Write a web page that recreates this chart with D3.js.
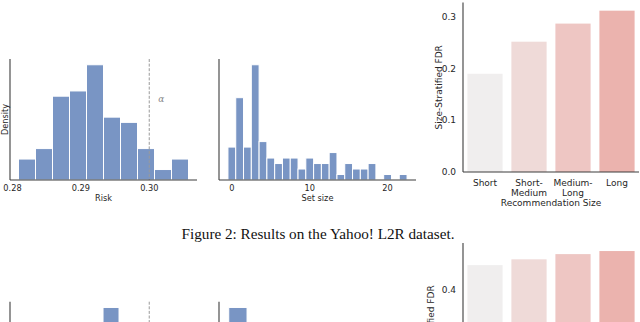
<!DOCTYPE html>
<html>
<head>
<meta charset="utf-8">
<script src="https://cdn.jsdelivr.net/npm/d3@7"></script>
<style>
  body { margin: 0; background: #fff; }
  svg { display: block; }
</style>
</head>
<body>
<script>
// ---- data ----

// Risk histogram (Yahoo! L2R), 10 bins
var riskCounts = [4, 6, 16, 17, 22, 12, 11, 6, 2, 4];
var riskFirstEdge = 0.28088;
var riskBinWidth = 0.002486;
var riskTicks = [0.28, 0.29, 0.30];
var riskAlpha = 0.30;

// Set size histogram, one bin per integer size
var setSizes = [0, 1, 2, 3, 4, 5, 6, 7, 8, 9, 10, 11, 12, 13, 14, 15, 16, 17, 18, 19, 20, 21, 22];
var setCounts = [6, 15, 6, 21, 7, 4, 3, 4, 4, 2, 4, 3, 3, 5, 1, 3, 2, 2, 3, 0, 1, 0, 1];
var setTicks = [0, 10, 20];

// Size-stratified FDR bar chart
var categories = ["Short", "Short-Medium", "Medium-Long", "Long"];
var categoryLines = [["Short"], ["Short-", "Medium"], ["Medium-", "Long"], ["Long"]];
var fdrYahoo = [0.190, 0.252, 0.287, 0.312];
var fdrTicks = [0.0, 0.1, 0.2, 0.3];
var barColors = ["#f0eeee", "#efdad8", "#eec6c3", "#ebb3ae"];

// next figure, only its top edge is in the picture
var fdrNext = [0.480, 0.499, 0.516, 0.526];
var fdrNextTicks = [0.4];
var nextRiskPeak = [0.29324, 0.29558];
var nextSetPeak = [-0.4, 1.95];
var nextAlpha = 0.30;

var histColor = "rgb(121,149,196)";
var spineColor = "#3d3d3d";
var textColor = "#262626";
var sans = "DejaVu Sans, sans-serif";

var svg = d3.select("body").append("svg")
  .attr("width", 640)
  .attr("height", 322);

// build the bins as {x0, x1, n}
var riskBins = riskCounts.map(function (c, i) {
  return { x0: riskFirstEdge + i * riskBinWidth, x1: riskFirstEdge + (i + 1) * riskBinWidth, n: c };
});
var setBins = setSizes.map(function (s, i) {
  return { x0: s - 0.5, x1: s + 0.5, n: setCounts[i] };
});

// matplotlib style 5% margin around the data
function padded(lo, hi) {
  var m = (hi - lo) * 0.05;
  return [lo - m, hi + m];
}

function histPanel(opt) {
  var g = svg.append("g");
  var x = d3.scaleLinear().domain(opt.xDomain).range([opt.left, opt.right]);
  var maxN = d3.max(opt.bins, function (d) { return d.n; });
  var y = d3.scaleLinear().domain([0, maxN * 1.05]).range([opt.bottom, opt.top]);

  g.selectAll("rect")
    .data(opt.bins.filter(function (d) { return d.n > 0; }))
    .enter()
    .append("rect")
    .attr("x", function (d) { return x(d.x0); })
    .attr("y", function (d) { return y(d.n); })
    .attr("width", function (d) { return x(d.x1) - x(d.x0); })
    .attr("height", function (d) { return y(0) - y(d.n); })
    .style("fill", histColor)
    .style("stroke", "#fff")
    .style("stroke-width", 1);

  if (opt.alpha !== undefined) {
    g.append("line")
      .attr("x1", x(opt.alpha)).attr("x2", x(opt.alpha))
      .attr("y1", opt.top).attr("y2", opt.bottom)
      .style("stroke", "#9a9a9a")
      .style("stroke-width", 1)
      .style("stroke-dasharray", "3,1.6");
  }
  if (opt.alphaLabel) {
    g.append("text")
      .attr("x", x(opt.alpha) + 12)
      .attr("y", opt.top + 43)
      .attr("text-anchor", "middle")
      .style("font-family", "DejaVu Serif, serif")
      .style("font-style", "italic")
      .style("font-size", "9px")
      .style("fill", "#8a8a8a")
      .text("\u03b1");
  }

  // spines: left and bottom only
  g.append("line")
    .attr("x1", opt.left).attr("x2", opt.left)
    .attr("y1", opt.top).attr("y2", opt.bottom)
    .style("stroke", spineColor).style("stroke-width", 1.1);
  g.append("line")
    .attr("x1", opt.left).attr("x2", opt.right)
    .attr("y1", opt.bottom).attr("y2", opt.bottom)
    .style("stroke", spineColor).style("stroke-width", 1.1);

  if (opt.ticks) {
    g.selectAll("text.tick")
      .data(opt.ticks)
      .enter()
      .append("text")
      .attr("class", "tick")
      .attr("x", function (d) { return x(d); })
      .attr("y", opt.bottom + 11)
      .attr("text-anchor", "middle")
      .style("font-family", sans)
      .style("font-size", "8.2px")
      .style("fill", textColor)
      .text(opt.fmt);
    g.append("text")
      .attr("x", (opt.left + opt.right) / 2)
      .attr("y", opt.bottom + 20.5)
      .attr("text-anchor", "middle")
      .style("font-family", sans)
      .style("font-size", "8.2px")
      .style("fill", textColor)
      .text(opt.xLabel);
  }
  if (opt.yLabel) {
    g.append("text")
      .attr("transform", "translate(" + (opt.left - 2.5) + "," + ((opt.top + opt.bottom) / 2) + ") rotate(-90)")
      .attr("text-anchor", "middle")
      .style("font-family", sans)
      .style("font-size", "8.2px")
      .style("fill", textColor)
      .text(opt.yLabel);
  }
}

function barPanel(opt) {
  var g = svg.append("g");
  var x = d3.scaleBand().domain(categories).range([opt.left, opt.right])
    .paddingInner(0.2).paddingOuter(0.1);
  var y = d3.scaleLinear().domain([0, d3.max(opt.values) * 1.05]).range([opt.bottom, opt.top]);

  g.selectAll("rect")
    .data(opt.values)
    .enter()
    .append("rect")
    .attr("x", function (d, i) { return x(categories[i]); })
    .attr("y", function (d) { return y(d); })
    .attr("width", x.bandwidth())
    .attr("height", function (d) { return y(0) - y(d); })
    .style("fill", function (d, i) { return barColors[i]; });

  g.append("line")
    .attr("x1", opt.left).attr("x2", opt.left)
    .attr("y1", opt.top).attr("y2", opt.bottom)
    .style("stroke", spineColor).style("stroke-width", 1.1);
  g.append("line")
    .attr("x1", opt.left).attr("x2", opt.right)
    .attr("y1", opt.bottom).attr("y2", opt.bottom)
    .style("stroke", spineColor).style("stroke-width", 1.1);

  g.selectAll("text.ytick")
    .data(opt.ticks)
    .enter()
    .append("text")
    .attr("class", "ytick")
    .attr("x", opt.left - 7)
    .attr("y", function (d) { return y(d); })
    .attr("dy", "0.35em")
    .attr("text-anchor", "end")
    .style("font-family", sans)
    .style("font-size", "9px")
    .style("fill", textColor)
    .text(d3.format(".1f"));

  g.append("text")
    .attr("transform", "translate(" + opt.yLabelX + "," + ((opt.top + opt.bottom) / 2) + ") rotate(-90)")
    .attr("dy", "0.35em")
    .attr("text-anchor", "middle")
    .style("font-family", sans)
    .style("font-size", "9px")
    .style("fill", textColor)
    .text("Size-Stratified FDR");

  // the lower copy is cut by the page edge, so it has no x labels in view
  if (opt.cut) return;

  // x tick labels, some on two lines
  var xt = g.selectAll("text.xtick")
    .data(categoryLines)
    .enter()
    .append("text")
    .attr("class", "xtick")
    .attr("text-anchor", "middle")
    .style("font-family", sans)
    .style("font-size", "9px")
    .style("fill", textColor);
  xt.selectAll("tspan")
    .data(function (d, i) { return d.map(function (s) { return { s: s, i: i }; }); })
    .enter()
    .append("tspan")
    .attr("x", function (d) { return x(categories[d.i]) + x.bandwidth() / 2; })
    .attr("y", function (d, j) { return opt.bottom + 14 + j * 9.5; })
    .text(function (d) { return d.s; });

  g.append("text")
    .attr("x", (opt.left + opt.right) / 2)
    .attr("y", opt.bottom + 33.5)
    .attr("text-anchor", "middle")
    .style("font-family", sans)
    .style("font-size", "9px")
    .style("fill", textColor)
    .text("Recommendation Size");
}

// ---- Figure 2 ----
histPanel({
  bins: riskBins,
  xDomain: padded(riskBins[0].x0, riskBins[riskBins.length - 1].x1),
  left: 10, right: 197, top: 59, bottom: 180,
  alpha: riskAlpha, alphaLabel: true,
  ticks: riskTicks, fmt: d3.format(".2f"),
  xLabel: "Risk", yLabel: "Density"
});

histPanel({
  bins: setBins,
  xDomain: padded(setBins[0].x0, setBins[setBins.length - 1].x1),
  left: 219, right: 416, top: 59, bottom: 180,
  ticks: setTicks, fmt: d3.format("d"),
  xLabel: "Set size"
});

barPanel({
  values: fdrYahoo, ticks: fdrTicks,
  left: 463, right: 639, top: 2.6, bottom: 172, yLabelX: 439
});

svg.append("text")
  .attr("x", 318)
  .attr("y", 239)
  .attr("text-anchor", "middle")
  .style("font-family", "Liberation Serif, Times New Roman, serif")
  .style("font-size", "15.2px")
  .style("fill", "#111")
  .text("Figure 2: Results on the Yahoo! L2R dataset.");

// ---- next figure, cut off by the bottom edge ----
histPanel({
  bins: [{ x0: nextRiskPeak[0], x1: nextRiskPeak[1], n: 1 }],
  xDomain: padded(riskBins[0].x0, riskBins[riskBins.length - 1].x1),
  left: 10, right: 197, top: 301.7, bottom: 422.7,
  alpha: nextAlpha
});

histPanel({
  bins: [{ x0: nextSetPeak[0], x1: nextSetPeak[1], n: 1 }],
  xDomain: padded(setBins[0].x0, setBins[setBins.length - 1].x1),
  left: 219, right: 416, top: 301.7, bottom: 422.7
});

barPanel({
  values: fdrNext, ticks: fdrNextTicks,
  left: 463, right: 639, top: 243, bottom: 412, yLabelX: 431, cut: true
});
</script>
</body>
</html>
